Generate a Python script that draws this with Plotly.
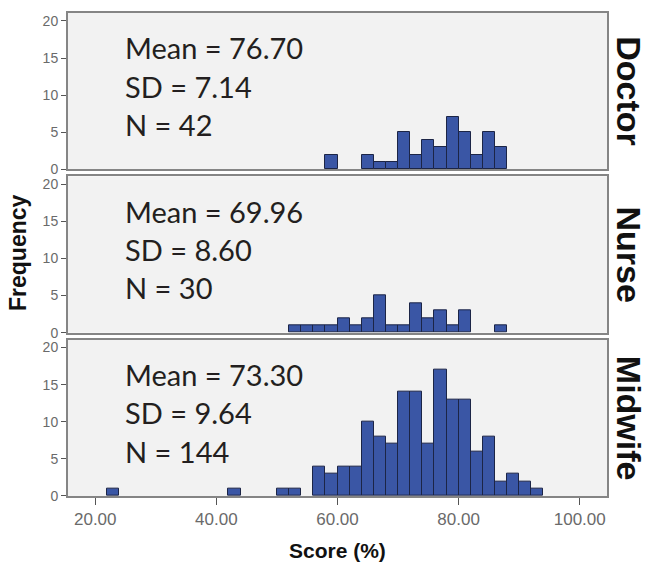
import plotly.graph_objects as go

# ---- data (bins of width 2, value = lower bin edge) ----
groups = ["Doctor", "Nurse", "Midwife"]

doctor_bins = [58, 64, 66, 68, 70, 72, 74, 76, 78, 80, 82, 84, 86]
doctor_counts = [2, 2, 1, 1, 5, 2, 4, 3, 7, 5, 2, 5, 3]

nurse_bins = [52, 54, 56, 58, 60, 62, 64, 66, 68, 70, 72, 74, 76, 78, 80, 86]
nurse_counts = [1, 1, 1, 1, 2, 1, 2, 5, 1, 1, 4, 2, 3, 1, 3, 1]

midwife_bins = [22, 42, 50, 52, 56, 58, 60, 62, 64, 66, 68, 70, 72, 74, 76, 78,
                80, 82, 84, 86, 88, 90, 92]
midwife_counts = [1, 1, 1, 1, 4, 3, 4, 4, 10, 8, 7, 14, 14, 7, 17, 13,
                  13, 6, 8, 2, 3, 2, 1]

stats_mean = ["76.70", "69.96", "73.30"]
stats_sd = ["7.14", "8.60", "9.64"]
stats_n = ["42", "30", "144"]

bin_width = 2
x_ticks = [20, 40, 60, 80, 100]
y_ticks = [0, 5, 10, 15, 20]

series = [(doctor_bins, doctor_counts), (nurse_bins, nurse_counts),
          (midwife_bins, midwife_counts)]

# ---- layout geometry (pixels) ----
W, H = 650, 565
L, R, T, B = 68, 43, 11, 69
pw, ph = W - L - R, H - T - B
panel_h, gap = 157, 7

def py(ypx):
    return 1 - (ypx - T) / ph

def px(xpx):
    return (xpx - L) / pw

fig = go.Figure()
axis_names = ["", "2", "3"]
tops = [T + i * (panel_h + gap) for i in range(3)]

grey_line = "#858585"
narrow = "Liberation Sans Narrow, Arial Narrow, Liberation Sans, Arial, sans-serif"
tick_font = dict(family=narrow, size=14, color="#6a6a6a")

for i, (g, (bins, counts)) in enumerate(zip(groups, series)):
    an = axis_names[i]
    fig.add_trace(go.Bar(
        x=[b + bin_width / 2 for b in bins], y=counts, width=bin_width,
        marker=dict(color="#3a56a5", line=dict(color="#1c2546", width=1)),
        xaxis="x" + an, yaxis="y" + an, showlegend=False,
    ))
    top = tops[i]
    bottom = top + panel_h
    dom = [1 - (bottom - T) / ph, 1 - (top - T) / ph]
    is_bottom = (i == 2)
    fig.layout["xaxis" + an] = dict(
        range=[15.5, 104.5], domain=[0, 1], anchor="y" + an,
        showline=True, mirror=True, linecolor=grey_line, linewidth=2,
        showgrid=False, zeroline=False,
        tickvals=x_ticks, tickformat=".2f",
        ticks="outside" if is_bottom else "", ticklen=7, tickcolor="#555",
        showticklabels=is_bottom,
        tickfont=dict(family=narrow, size=17, color="#6a6a6a"),
        matches="x" if i > 0 else None,
    )
    fig.layout["yaxis" + an] = dict(
        range=[0, 21.07], domain=dom, anchor="x" + an,
        showline=True, mirror=True, linecolor=grey_line, linewidth=2,
        showgrid=False, zeroline=False,
        tickvals=y_ticks, ticks="outside", ticklen=5, tickcolor="#555",
        tickfont=tick_font,
    )
    # stats text
    lines = ["Mean = " + stats_mean[i], "SD = " + stats_sd[i], "N = " + stats_n[i]]
    for k, txt in enumerate(lines):
        fig.add_annotation(
            text=txt, xref="paper", yref="paper",
            x=px(123), y=py(top + 35 + k * 38.5),
            xanchor="left", yanchor="middle", showarrow=False,
            font=dict(family="Lato, Open Sans, sans-serif", size=29, color="#231f20"),
        )
    # facet label on the right
    fig.add_annotation(
        text="<b>" + g + "</b>", xref="paper", yref="paper",
        x=px(629), y=py(top + panel_h / 2), textangle=90,
        xanchor="center", yanchor="middle", showarrow=False,
        font=dict(family="Liberation Sans, Arial, sans-serif", size=34, color="#111"),
    )

fig.add_annotation(
    text="<b>Frequency</b>", xref="paper", yref="paper",
    x=px(18), y=py(252), textangle=-90, xanchor="center", yanchor="middle",
    showarrow=False, font=dict(family="Liberation Sans, Arial, sans-serif", size=23, color="#111"),
)
fig.add_annotation(
    text="<b>Score (%)</b>", xref="paper", yref="paper",
    x=px(337), y=py(551), xanchor="center", yanchor="middle",
    showarrow=False, font=dict(family="Liberation Sans, Arial, sans-serif", size=21, color="#111"),
)

fig.update_layout(
    width=W, height=H, margin=dict(l=L, r=R, t=T, b=B),
    paper_bgcolor="white", plot_bgcolor="#f2f2f2", bargap=0,
)

fig.write_html("out.html")
